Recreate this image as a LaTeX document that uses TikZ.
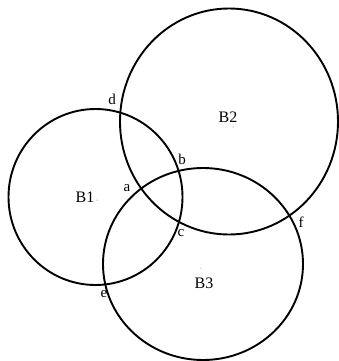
\documentclass[tikz,border=0pt]{standalone}
\usepackage{fontspec}
\setmainfont{Liberation Serif}
\usetikzlibrary{positioning}

\begin{document}
\begin{tikzpicture}[
  x=1pt,y=-1pt,
  ring/.style={draw, line width=1.9pt},
  tag/.style={font=\fontsize{16}{18}\selectfont, inner sep=0pt},
  pt/.style={font=\fontsize{15}{17}\selectfont, inner sep=0pt},
  speck/.style={fill=black!60}
]
\useasboundingbox (0,0) rectangle (339,361);
% the three balls
\draw[ring] (95.5,197) ellipse [x radius=87, y radius=88];
\draw[ring] (229,121.5) ellipse [x radius=109, y radius=113];
\draw[ring] (203,264) ellipse [x radius=100, y radius=96];
\fill[speck] (97,200) circle (0.5);
\fill[speck] (233,127) circle (0.5);
\fill[speck] (201,268) circle (0.5);
\node[tag] (b1) at (85,197) {B1};
\node[tag] (b2) at (228,117) {B2};
\node[tag] (b3) at (204,283) {B3};
% crossing points
\node[pt] (d) at (112,99) {d};
\node[pt] (b) at (182,159) {b};
\node[pt] (a) at (127,188) {a};
\node[pt] (c) at (181,233) {c};
\node[pt] (f) at (301,222) {f};
\node[pt] (e) at (104,294) {e};
\end{tikzpicture}
\end{document}
